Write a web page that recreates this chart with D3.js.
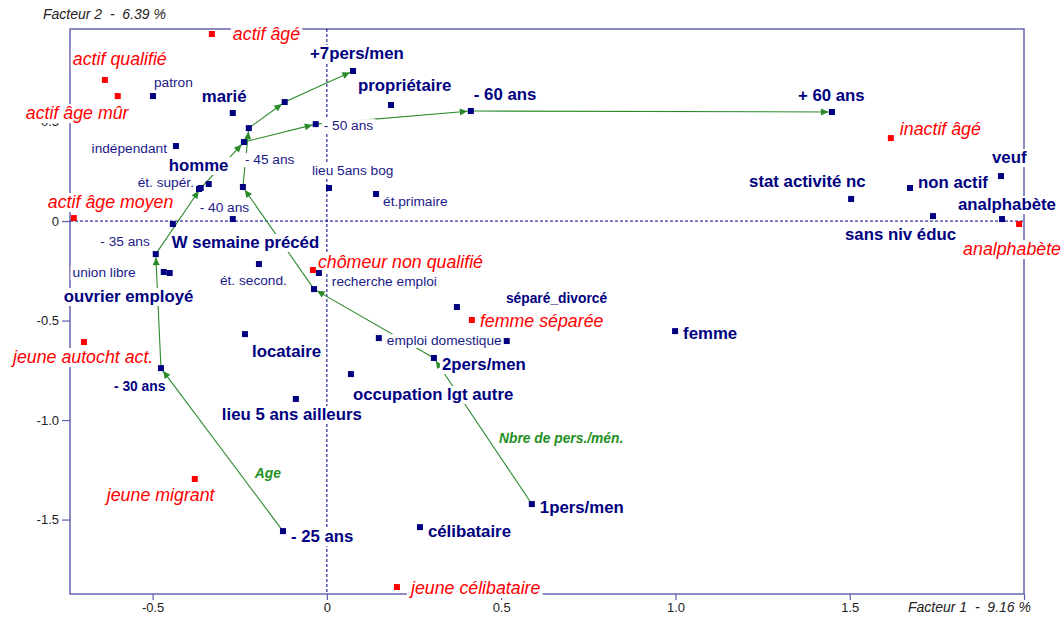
<!DOCTYPE html>
<html><head><meta charset="utf-8">
<script src="https://cdn.jsdelivr.net/npm/d3@7"></script>
<style>
html,body{margin:0;padding:0;background:#fff;}
svg{display:block;font-family:"Liberation Sans",Arial,sans-serif;}
text{white-space:pre;}
</style></head>
<body>
<svg id="chart" width="1063" height="617"></svg>
<script>
// ---------- DATA ----------
// active categories (navy points)
const activeNames = ["patron","marié","indépendant","homme","ét. supér.","- 40 ans","W semaine précéd","",
  "lieu 5ans bog","ét.primaire","propriétaire","- 60 ans","+ 60 ans","+7pers/men","- 50 ans","- 45 ans",
  "5pers/men","6pers/men","4pers/men","3pers/men","- 35 ans","- 30 ans","- 25 ans","union libre","ouvrier employé",
  "ét. second.","locataire","recherche emploi","emploi domestique"," ","séparé_divorcé","2pers/men",
  "occupation lgt autre","lieu 5 ans ailleurs","femme","stat activité nc","non actif","sans niv éduc","veuf",
  "analphabète","1pers/men","célibataire"];
const activeX = [-0.499,-0.270,-0.433,-0.339,-0.367,-0.362,-0.442,-0.270,
  0.006,0.141,0.184,0.413,1.449,0.075,-0.032,-0.238,
  -0.224,-0.121,-0.241,-0.037,-0.491,-0.476,-0.126,-0.468,-0.451,
  -0.195,-0.235,-0.023,0.149,0.516,0.373,0.307,
  0.069,-0.089,0.999,1.504,1.673,1.739,1.934,
  1.937,0.588,0.267];
const activeY = [0.628,0.543,0.377,0.186,0.161,0.166,-0.015,0.010,
  0.166,0.136,0.583,0.553,0.548,0.754,0.487,0.397,
  0.467,0.598,0.171,-0.342,-0.166,-0.739,-1.558,-0.256,-0.261,
  -0.216,-0.568,-0.261,-0.588,-0.603,-0.432,-0.688,
  -0.769,-0.894,-0.553,0.111,0.166,0.025,0.226,
  0.010,-1.422,-1.538];

// supplementary categories (red points)
const suppNames = ["actif âgé","actif qualifié","actif âge mûr","actif âge moyen","jeune autocht act.",
  "jeune migrant","jeune célibataire","chômeur non qualifié","femme séparée","inactif âgé","analphabète"];
const suppX = [-0.330,-0.637,-0.600,-0.726,-0.697,-0.379,0.201,-0.040,0.416,1.618,1.986];
const suppY = [0.940,0.709,0.628,0.015,-0.608,-1.296,-1.839,-0.246,-0.497,0.417,-0.015];

// trajectories (ordered categories)
const ageChain = ["- 25 ans","- 30 ans","- 35 ans","- 40 ans","- 45 ans","- 50 ans","- 60 ans","+ 60 ans"];
const householdChain = ["1pers/men","2pers/men","3pers/men","4pers/men","5pers/men","6pers/men","+7pers/men"];
const annotationTexts = ["Age","Nbre de pers./mén."];

// axes
const xTicks = [-0.5, 0, 0.5, 1.0, 1.5, 2.0];
const xTickLabels = ["-0.5","0","0.5","1.0","1.5",""];
const yTicks = [0.5, 0, -0.5, -1.0, -1.5];
const yTickLabels = ["0.5","0","-0.5","-1.0","-1.5"];
const xTitle = "Facteur 1  -  9.16 %";
const yTitle = "Facteur 2  -  6.39 %";

// ---------- LAYOUT (label offsets px: dx, dy, anchor, style) ----------
const activeLabelLayout = {
  "patron":[1,-9,"start","s"], "marié":[-31,-11,"start","b"], "indépendant":[-9,7,"end","s"],
  "homme":[-40,-13,"start","b"], "ét. supér.":[-5,-2,"end","s"], "- 40 ans":[-1,24,"start","s"],
  "W semaine précéd":[-1,24,"start","b"], "lieu 5ans bog":[-17,-13,"start","s"], "ét.primaire":[7,12,"start","s"],
  "propriétaire":[-33,-14,"start","b"], "- 60 ans":[3,-11,"start","b"], "+ 60 ans":[-34,-11,"start","b"],
  "+7pers/men":[-43,-12,"start","b"], "- 50 ans":[8,6,"start","s"], "- 45 ans":[1,22,"start","s"],
  "- 35 ans":[-6,-8,"end","s"], "- 30 ans":[-47,23,"start","sb"], "- 25 ans":[8,11,"start","b"],
  "union libre":[-28,5,"end","s"], "ouvrier employé":[-106,29,"start","b"], "ét. second.":[-39,21,"start","s"],
  "locataire":[7,23,"start","b"], "recherche emploi":[13,13,"start","s"], "emploi domestique":[8,7,"start","s"],
  "séparé_divorcé":[49,-4,"start","sb"], "2pers/men":[8,12,"start","b"], "occupation lgt autre":[2,26,"start","b"],
  "lieu 5 ans ailleurs":[-74,21,"start","b"], "femme":[8,8,"start","b"], "stat activité nc":[-102,-12,"start","b"],
  "non actif":[8,0,"start","b"], "sans niv éduc":[-88,24,"start","b"], "veuf":[-9,-13,"start","b"],
  "analphabète":[-44,-9,"start","b"], "1pers/men":[8,9,"start","b"], "célibataire":[8,10,"start","b"]
};
const suppLabelLayout = {
  "actif âgé":[21,6], "actif qualifié":[-32,-15], "actif âge mûr":[-92,23], "actif âge moyen":[-26,-10],
  "jeune autocht act.":[-71,21], "jeune migrant":[-88,22], "jeune célibataire":[14,7],
  "chômeur non qualifié":[5,-2], "femme séparée":[8,7], "inactif âgé":[9,-3], "analphabète":[-56,31]
};
const annotationPos = [[-0.207,-1.291],[0.494,-1.116]];

// ---------- DRAW ----------
const svg = d3.select("#chart");
const L = 70, R = 1024, T = 29, B = 594;
const x = d3.scaleLinear().domain([-0.737, 2.0]).range([L, R]);
const y = d3.scaleLinear().domain([0.965, -1.874]).range([T, B]);

const frameColor = "#5c5cac", navy = "#000080", green = "#2a8a2a", red = "#ff0000";

// frame
svg.append("rect").attr("x", L).attr("y", T).attr("width", R - L).attr("height", B - T)
  .attr("fill", "none").attr("stroke", frameColor).attr("stroke-width", 1.4);

// zero lines
svg.append("line").attr("x1", L).attr("x2", R).attr("y1", y(0)).attr("y2", y(0))
  .attr("stroke", navy).attr("stroke-width", 1).attr("stroke-dasharray", "3,2");
svg.append("line").attr("x1", x(0)).attr("x2", x(0)).attr("y1", T).attr("y2", B)
  .attr("stroke", navy).attr("stroke-width", 1).attr("stroke-dasharray", "3,2");

// axes via d3 axis generators
const xAxis = d3.axisBottom(x).tickValues(xTicks).tickSize(6).tickSizeOuter(0)
  .tickFormat((d, i) => xTickLabels[i]);
const gx = svg.append("g").attr("transform", `translate(0,${B})`).call(xAxis);
gx.select(".domain").remove();
gx.selectAll(".tick line").attr("stroke", frameColor).attr("stroke-width", 1.2);
gx.selectAll(".tick text").attr("fill", "#222").attr("font-size", 13)
  .attr("font-family", "Liberation Sans, Arial, sans-serif").attr("dy", null).attr("y", 18);

const yAxis = d3.axisLeft(y).tickValues(yTicks).tickSize(8).tickSizeOuter(0)
  .tickFormat((d, i) => yTickLabels[i]);
const gy = svg.append("g").attr("transform", `translate(${L},0)`).call(yAxis);
gy.select(".domain").remove();
gy.selectAll(".tick line").attr("stroke", frameColor).attr("stroke-width", 1.2);
gy.selectAll(".tick text").attr("fill", "#222").attr("font-size", 13)
  .attr("font-family", "Liberation Sans, Arial, sans-serif").attr("x", -11);

// axis titles
svg.append("text").attr("x", 43).attr("y", 19).attr("font-size", 14).attr("font-style", "italic")
  .attr("fill", "#222").text(yTitle);
svg.append("text").attr("x", 908).attr("y", 612).attr("font-size", 14).attr("font-style", "italic")
  .attr("fill", "#222").text(xTitle);

// build point records
const active = activeNames.map((n, i) => ({ name: n, x: activeX[i], y: activeY[i] }));
const supp = suppNames.map((n, i) => ({ name: n, x: suppX[i], y: suppY[i] }));
const byName = new Map(active.filter(d => d.name.trim() !== "").map(d => [d.name, d]));

// trajectories
function drawChain(chain) {
  const pts = chain.map(n => byName.get(n));
  const g = svg.append("g");
  for (let i = 0; i < pts.length - 1; i++) {
    const a = pts[i], b = pts[i + 1];
    const ax = x(a.x), ay = y(a.y), bx = x(b.x), by = y(b.y);
    g.append("line").attr("x1", ax).attr("y1", ay).attr("x2", bx).attr("y2", by)
      .attr("stroke", green).attr("stroke-width", 1.1);
    const len = Math.hypot(bx - ax, by - ay), ux = (bx - ax) / len, uy = (by - ay) / len;
    const tx = bx - ux * 3.5, ty = by - uy * 3.5;
    const cx = bx - ux * 11, cy = by - uy * 11;
    const px = -uy * 3.5, py = ux * 3.5;
    g.append("path").attr("d", `M${tx},${ty}L${cx + px},${cy + py}L${cx - px},${cy - py}Z`)
      .attr("fill", green);
  }
}
drawChain(ageChain);
drawChain(householdChain);

// labels with white background boxes
const labelG = svg.append("g");
function addLabel(px, py, txt, anchor, opts) {
  const g = labelG.append("g");
  const t = g.append("text").attr("x", px).attr("y", py).attr("text-anchor", anchor)
    .attr("font-size", opts.size).attr("font-weight", opts.weight).attr("font-style", opts.style)
    .attr("fill", opts.color).text(txt);
  const bb = t.node().getBBox();
  g.insert("rect", "text").attr("x", bb.x - 2).attr("y", bb.y + 1).attr("width", bb.width + 4)
    .attr("height", bb.height - 1).attr("fill", "#fff");
}
const styles = {
  b: { size: 16.8, weight: "bold", style: "normal", color: navy },
  s: { size: 13.7, weight: "normal", style: "normal", color: "#1a1a88" },
  sb: { size: 13.8, weight: "bold", style: "normal", color: navy }
};
active.forEach(d => {
  const lay = activeLabelLayout[d.name];
  if (!lay) return;
  addLabel(x(d.x) + lay[0], y(d.y) + lay[1], d.name, lay[2], styles[lay[3]]);
});
supp.forEach(d => {
  const lay = suppLabelLayout[d.name];
  if (!lay) return;
  addLabel(x(d.x) + lay[0], y(d.y) + lay[1], d.name, "start",
    { size: 17.8, weight: "normal", style: "italic", color: red });
});
annotationTexts.forEach((t, i) => {
  addLabel(x(annotationPos[i][0]), y(annotationPos[i][1]), t, "start",
    { size: 13.8, weight: "bold", style: "italic", color: "#1f8f1f" });
});

// points
const s = 6;
svg.append("g").selectAll("rect").data(active).join("rect")
  .attr("x", d => x(d.x) - s / 2).attr("y", d => y(d.y) - s / 2)
  .attr("width", s).attr("height", s).attr("fill", navy);
svg.append("g").selectAll("rect").data(supp).join("rect")
  .attr("x", d => x(d.x) - s / 2).attr("y", d => y(d.y) - s / 2)
  .attr("width", s).attr("height", s).attr("fill", red);
</script>
</body></html>
